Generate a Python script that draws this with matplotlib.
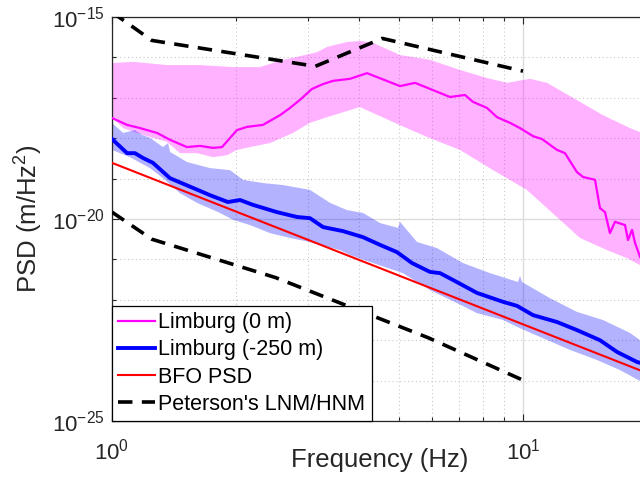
import numpy as np
import matplotlib
matplotlib.use("Agg")
import matplotlib.pyplot as plt
from matplotlib.ticker import FixedLocator, NullFormatter

plt.rcParams['font.family'] = ['Liberation Sans', 'DejaVu Sans']
plt.rcParams['mathtext.fontset'] = 'custom'
plt.rcParams['mathtext.rm'] = 'Liberation Sans'
plt.rcParams['mathtext.it'] = 'Liberation Sans:italic'

# Limburg (0 m) - median and percentile band (Hz, log10 PSD)
mag_f = [1.00, 1.088, 1.170, 1.287, 1.384, 1.522, 1.637, 1.761, 1.852, 2.014, 2.130, 2.330,
         2.563, 2.711, 2.867, 3.066, 3.262, 3.450, 3.794, 4.173, 5.020, 5.461, 6.643, 7.225,
         7.555, 8.172, 8.645, 9.298, 9.833, 10.58, 11.12, 12.10, 12.65, 13.53, 14.00, 14.97,
         15.39, 15.83, 16.28, 16.74, 17.71, 18.01, 18.42, 18.73, 19.27]
mag_med = [-17.50, -17.67, -17.75, -17.87, -18.04, -18.22, -18.19, -18.24, -18.22, -17.80, -17.72, -17.67,
           -17.43, -17.25, -17.05, -16.78, -16.66, -16.58, -16.53, -16.39, -16.71, -16.63, -16.98, -16.93,
           -17.10, -17.25, -17.48, -17.62, -17.75, -17.95, -18.02, -18.29, -18.37, -18.84, -18.96, -19.03,
           -19.73, -19.83, -20.35, -20.07, -20.15, -20.52, -20.27, -20.59, -20.94]
mag_up_f = [1.00, 1.125, 1.361, 1.637, 1.970, 2.291, 2.607, 2.756, 3.154, 3.336, 3.730, 4.012,
            4.315, 5.020, 5.939, 7.026, 8.172, 9.143, 10.40, 11.44, 13.23, 15.65, 18.21, 19.27]
mag_up = [-16.14, -16.11, -16.19, -16.19, -16.24, -16.24, -16.06, -16.01, -15.87, -15.74, -15.62, -15.59,
          -15.64, -15.94, -16.06, -16.31, -16.51, -16.63, -16.53, -16.63, -17.00, -17.43, -17.75, -17.85]
mag_lo_f = [1.00, 1.064, 1.190, 1.361, 1.464, 1.610, 1.761, 1.905, 2.014, 2.167, 2.424, 2.756, 3.032,
            3.336, 3.588, 4.012, 4.828, 5.839, 7.026, 8.453, 10.22, 12.30, 13.76, 16.01, 17.91, 19.27]
mag_lo = [-17.48, -17.75, -17.92, -18.09, -18.37, -18.37, -18.47, -18.42, -18.29, -18.22, -18.12, -17.87, -17.62,
          -17.48, -17.38, -17.23, -17.60, -17.97, -18.29, -18.79, -19.28, -20.02, -20.47, -20.77, -20.97, -21.14]

# Limburg (-250 m)
blu_f = [1.00, 1.088, 1.137, 1.190, 1.258, 1.384, 1.574, 1.731, 1.915, 2.049, 2.203, 2.520, 2.819,
         3.032, 3.262, 3.648, 4.081, 4.488, 4.936, 5.370, 5.939, 6.283, 6.757, 7.729, 8.940, 9.669,
         10.58, 12.10, 13.53, 15.39, 16.93, 18.95, 19.27]
blu_med = [-18.02, -18.37, -18.37, -18.49, -18.61, -18.99, -19.23, -19.41, -19.58, -19.53, -19.65, -19.83, -19.95,
           -19.98, -20.20, -20.30, -20.45, -20.64, -20.82, -21.09, -21.31, -21.34, -21.51, -21.83, -22.05, -22.15,
           -22.38, -22.55, -22.75, -23.00, -23.29, -23.54, -23.56]
blu_up_f = [1.00, 1.064, 1.137, 1.183, 1.237, 1.331, 1.369, 1.384, 1.522, 1.731, 1.937, 2.083, 2.330,
            2.607, 3.032, 3.392, 3.730, 4.081, 4.488, 4.964, 5.020, 5.523, 6.177, 7.145, 8.312, 9.724,
            9.833, 9.944, 11.63, 13.53, 15.65, 18.21, 19.27]
blu_up = [-17.62, -17.87, -17.80, -17.92, -17.99, -18.22, -18.12, -18.34, -18.59, -18.74, -18.79, -19.03, -19.11,
          -19.16, -19.28, -19.60, -19.78, -19.85, -20.10, -20.22, -20.07, -20.57, -20.72, -21.09, -21.34, -21.56,
          -21.41, -21.56, -21.96, -22.30, -22.50, -22.82, -23.00]
blu_lo_f = [1.00, 1.106, 1.237, 1.331, 1.464, 1.610, 1.831, 1.970, 2.167, 2.424, 2.711, 3.032, 3.588,
            3.794, 4.315, 5.105, 5.939, 6.909, 7.729, 8.940, 9.669, 11.18, 13.01, 15.14, 17.22, 19.27]
blu_lo = [-18.29, -18.47, -18.74, -18.99, -19.36, -19.60, -19.85, -20.02, -20.15, -20.35, -20.47, -20.57, -20.77,
          -20.89, -21.09, -21.34, -21.76, -22.08, -22.33, -22.50, -22.67, -22.95, -23.24, -23.49, -23.74, -24.01]

# BFO PSD (straight line)
bfo_f = [1.0, 20.0]
bfo_psd = [-18.61, -23.81]

# Peterson's noise models, displacement PSD
hnm_f = [1.0, 1.25, 3.125, 4.545, 10.0]
hnm_psd = [-14.88, -15.58, -16.22, -15.53, -16.34]
lnm_f = [1.0, 1.25, 2.5, 5.882, 10.0]
lnm_psd = [-19.83, -20.50, -21.45, -22.94, -23.99]

# ticks
x_major = [1, 10]
x_minor = [2, 3, 4, 5, 6, 7, 8, 9, 20]
y_major_exp = [-25, -20, -15]
y_minor_exp = [-24, -23, -22, -21, -19, -18, -17, -16]

fig = plt.figure(figsize=(6.4, 4.79), dpi=100)
# axes runs past the right edge of the figure (cropped like the original)
ax = fig.add_axes([0.175, 0.1211, 0.8355, 0.8434])

def p(v):
    return 10.0 ** np.asarray(v, dtype=float)

# shaded bands
ax.fill(np.concatenate([mag_up_f, mag_lo_f[::-1]]), p(np.concatenate([mag_up, mag_lo[::-1]])),
        color='magenta', alpha=0.3, lw=0, zorder=1)
ax.fill(np.concatenate([blu_up_f, blu_lo_f[::-1]]), p(np.concatenate([blu_up, blu_lo[::-1]])),
        color='blue', alpha=0.3, lw=0, zorder=1)

ax.plot(mag_f, p(mag_med), color='magenta', lw=1.6, label='Limburg (0 m)', zorder=3)
ax.plot(blu_f, p(blu_med), color='blue', lw=2.8, label='Limburg (-250 m)', zorder=3)
ax.plot(bfo_f, p(bfo_psd), color='red', lw=1.5, label='BFO PSD', zorder=3)
ax.plot(lnm_f, p(lnm_psd), color='black', lw=2.6, ls=(0, (4, 2.6)), label="Peterson's LNM/HNM", zorder=3)
ax.plot(hnm_f, p(hnm_psd), color='black', lw=2.6, ls=(0, (4, 2.6)), zorder=3)

ax.set_xscale('log')
ax.set_yscale('log')
ax.set_xlim(1, 20)
ax.set_ylim(1e-25, 1e-15)

ax.xaxis.set_major_locator(FixedLocator(x_major))
ax.xaxis.set_minor_locator(FixedLocator(x_minor))
ax.yaxis.set_major_locator(FixedLocator(p(y_major_exp)))
ax.yaxis.set_minor_locator(FixedLocator(p(y_minor_exp)))
ax.xaxis.set_minor_formatter(NullFormatter())
ax.yaxis.set_minor_formatter(NullFormatter())
ax.set_xticklabels(['$10^{0}$', '$10^{1}$'])
ax.set_yticklabels(['$10^{-25}$', '$10^{-20}$', '$10^{-15}$'])

ax.grid(True, which='major', color='#dcdcdc', lw=1.0, ls='-', zorder=0)
ax.grid(True, which='minor', color='#c8c8c8', lw=0.8, ls=(0, (1, 2.5)), zorder=0)
ax.set_axisbelow(True)

ax.tick_params(which='both', direction='in', top=True, right=True, labelsize=16, width=0.8,
               color='#262626', labelcolor='#262626')
ax.tick_params(which='major', length=5)
ax.tick_params(which='minor', length=3)
ax.tick_params(axis='x', which='major', pad=13)
ax.tick_params(axis='y', which='major', pad=5)
for s in ax.spines.values():
    s.set_linewidth(0.9)
    s.set_color('#262626')

ax.set_xlabel('Frequency (Hz)', fontsize=18.5, color='#262626')
ax.set_ylabel('PSD (m/Hz$^2$)', fontsize=18.5, color='#262626')
ax.xaxis.set_label_coords(0.5, -0.066)
ax.yaxis.set_label_coords(-0.125, 0.5)

leg = ax.legend(loc='lower left', bbox_to_anchor=(0, 0), borderaxespad=0, fontsize=15.5,
                fancybox=False, framealpha=1, edgecolor='black', handlelength=1.7,
                handletextpad=0.15, labelspacing=0.28, borderpad=0.3)
leg.get_frame().set_linewidth(0.9)

fig.savefig('out.png', dpi=100)
